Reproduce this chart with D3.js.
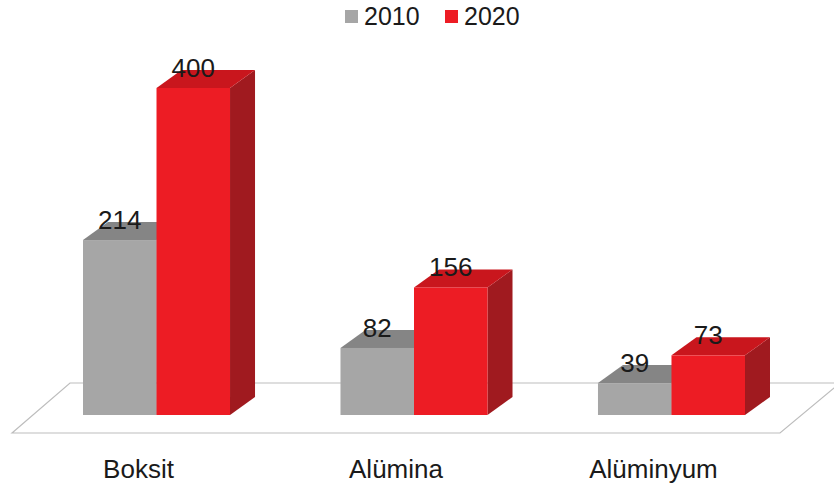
<!DOCTYPE html>
<html>
<head>
<meta charset="utf-8">
<script src="https://cdn.jsdelivr.net/npm/d3@7"></script>
<style>
  body { margin: 0; background: #fff; }
  text { font-family: "Liberation Sans", Arial, sans-serif; fill: #1a1a1a; }
</style>
</head>
<body>
<div id="chart"></div>
<script>
const categories = ["Boksit", "Alümina", "Alüminyum"];
const seriesNames = ["2010", "2020"];
const values2010 = [214, 82, 39];
const values2020 = [400, 156, 73];

const width = 834;
const height = 486;
const depthX = 25;
const depthY = -18;

const colors = {
  "2010": { front: "#a6a6a6", top: "#858585", side: "#777777" },
  "2020": { front: "#ed1c24", top: "#c9161d", side: "#a01a1f" },
};

const data = categories.map((c, i) => ({
  category: c,
  values: [
    { series: "2010", value: values2010[i] },
    { series: "2020", value: values2020[i] },
  ],
}));

const svg = d3
  .select("#chart")
  .append("svg")
  .attr("width", width)
  .attr("height", height);

const x0 = d3
  .scaleBand()
  .domain(categories)
  .range([31.5, 796.5])
  .paddingInner(0.429)
  .paddingOuter(0.2);

const x1 = d3
  .scaleBand()
  .domain(seriesNames)
  .range([0, x0.bandwidth()]);

const yScale = d3.scaleLinear().domain([0, 400]).range([415, 88]);

// floor
const floorBack = 383;
const floorFront = 433;
svg
  .append("path")
  .attr(
    "d",
    `M12,${floorFront} L70,${floorBack} L840,${floorBack} L780,${floorFront} Z`
  )
  .attr("fill", "#fff")
  .attr("stroke", "#bdbdbd")
  .attr("stroke-width", 1.2);

// bars, gray first so red covers its side
const bars = [];
data.forEach((d) => {
  d.values.forEach((v) => {
    bars.push({ category: d.category, series: v.series, value: v.value });
  });
});

const g = svg
  .selectAll("g.bar")
  .data(bars)
  .enter()
  .append("g")
  .attr("class", "bar");

g.each(function (d) {
  const x = x0(d.category) + x1(d.series);
  const w = x1.bandwidth();
  const y = yScale(d.value);
  const b = yScale(0);
  const sel = d3.select(this);
  const c = colors[d.series];
  // side
  sel
    .append("path")
    .attr(
      "d",
      `M${x + w},${y} L${x + w + depthX},${y + depthY} L${x + w + depthX},${b + depthY} L${x + w},${b} Z`
    )
    .attr("fill", c.side);
  // top
  sel
    .append("path")
    .attr(
      "d",
      `M${x},${y} L${x + depthX},${y + depthY} L${x + w + depthX},${y + depthY} L${x + w},${y} Z`
    )
    .attr("fill", c.top);
  // front
  sel
    .append("rect")
    .attr("x", x)
    .attr("y", y)
    .attr("width", w)
    .attr("height", b - y)
    .attr("fill", c.front);
});

// value labels
svg
  .selectAll("text.value")
  .data(bars)
  .enter()
  .append("text")
  .attr("class", "value")
  .attr("x", (d) => x0(d.category) + x1(d.series) + x1.bandwidth() / 2)
  .attr("y", (d) => yScale(d.value) - 11)
  .attr("text-anchor", "middle")
  .attr("font-size", 26)
  .text((d) => d.value);

// category labels
svg
  .selectAll("text.cat")
  .data(categories)
  .enter()
  .append("text")
  .attr("class", "cat")
  .attr("x", (d) => x0(d) + x0.bandwidth() / 2 - 18)
  .attr("y", 478)
  .attr("text-anchor", "middle")
  .attr("font-size", 26)
  .text((d) => d);

// legend
const legend = svg
  .selectAll("g.legend")
  .data(seriesNames)
  .enter()
  .append("g")
  .attr("class", "legend")
  .attr("transform", (d, i) => `translate(${345 + i * 100}, 0)`);

legend
  .append("rect")
  .attr("x", 0)
  .attr("y", 10)
  .attr("width", 13)
  .attr("height", 13)
  .attr("fill", (d) => colors[d].front);

legend
  .append("text")
  .attr("x", 19)
  .attr("y", 25)
  .attr("font-size", 25)
  .text((d) => d);
</script>
</body>
</html>
